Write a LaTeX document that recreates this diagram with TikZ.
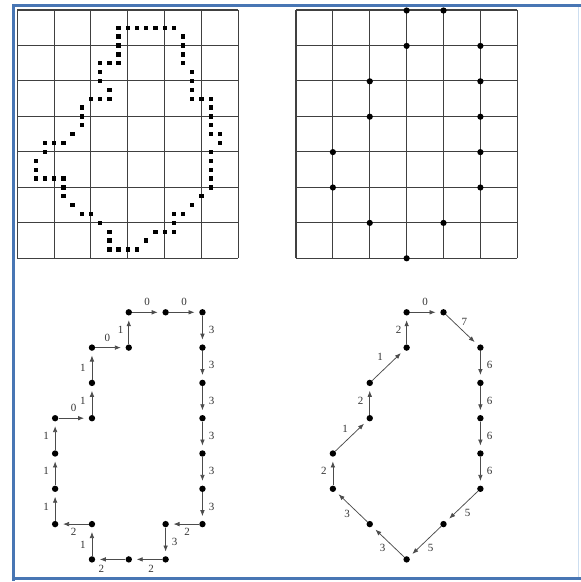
\documentclass[tikz,border=0pt]{standalone}
\usepackage{fontspec}
\setmainfont{Liberation Serif}
\usetikzlibrary{arrows.meta,positioning}
\definecolor{framecol}{RGB}{72,118,180}
\definecolor{framelight}{RGB}{205,222,240}
\tikzset{
  gridline/.style={draw=black!75, line width=1.05pt},
  sqdot/.style={rectangle, fill=black, inner sep=0pt, minimum size=4.3pt},
  gdot/.style={circle, fill=black, inner sep=0pt, minimum size=6.2pt},
  bdot/.style={circle, fill=black, inner sep=0pt, minimum size=6.4pt},
  arr/.style={draw=black!70, line width=0.75pt, -{Latex[length=6pt,width=4.6pt]}, shorten >=4.5pt},
  lab/.style={font=\fontsize{11}{13}\selectfont, text=black!80, inner sep=1pt}
}
\begin{document}
\begin{tikzpicture}[x=1pt,y=-1pt]
\useasboundingbox (0,0) rectangle (581,582);
% frame
\draw[framelight, line width=1.5pt] (578.5,5) -- (578.5,578);
\draw[framecol, line width=3pt] (13.5,4) -- (13.5,580.5);
\draw[framecol, line width=2.5pt] (12,5.5) -- (581,5.5);
\draw[framecol, line width=3pt] (12,578.8) -- (581,578.8);
% top-left grid
\foreach \i in {0,...,6} \draw[gridline] ({17.3+36.83*\i},10) -- ({17.3+36.83*\i},258.3);
\foreach \j in {0,...,7} \draw[gridline] (17.3,{10+35.47*\j}) -- (238.3,{10+35.47*\j});
% top-left boundary pixels
\foreach \a/\b in {11/2,12/2,13/2,14/2,15/2,16/2,17/2,
  18/3,18/4,18/5,18/6,19/7,19/8,19/9,19/10,20/10,21/10,
  21/11,21/12,21/13,21/14,22/14,22/15,
  21/16,21/17,21/18,21/19,21/20,20/21,19/22,18/23,17/23,17/24,17/25,16/25,15/25,
  14/26,13/27,12/27,11/27,10/27,10/26,10/25,9/24,8/23,7/23,6/22,5/21,5/20,
  5/19,4/19,3/19,2/19,2/18,2/17,3/16,3/15,4/15,5/15,6/14,7/13,7/12,7/11,
  8/10,9/10,10/10,10/9,9/8,9/7,9/6,10/6,11/6,11/5,11/4,11/3}
  \node[sqdot] (d\a-\b) at ({17.3+9.21*\a},{10+8.87*\b}) {};
% top-right grid
\foreach \i in {0,...,6} \draw[gridline] ({296+36.88*\i},10) -- ({296+36.88*\i},258.3);
\foreach \j in {0,...,7} \draw[gridline] (296,{10+35.47*\j}) -- (517.3,{10+35.47*\j});
\foreach \c/\r in {3/0,4/0,3/1,5/1,2/2,5/2,2/3,5/3,1/4,5/4,1/5,5/5,2/6,4/6,3/7}
  \node[gdot] (g\c\r) at ({296+36.88*\c},{10.5+35.4*\r}) {};
% bottom-left chain
\foreach \c/\r in {3/0,4/0,5/0,2/1,3/1,1/3,2/2,2/3,1/4,1/5,1/6,2/6,2/7,3/7,4/7,4/6,5/1,5/2,5/3,5/4,5/5,5/6}
  \node[bdot] (L\c\r) at ({18.3+36.83*\c},{312.3+35.3*\r}) {};
\draw[arr] (L16) -- node[lab,left=5pt] {1} (L15);
\draw[arr] (L15) -- node[lab,left=5pt] {1} (L14);
\draw[arr] (L14) -- node[lab,left=5pt] {1} (L13);
\draw[arr] (L13) -- node[lab,above=5pt] {0} (L23);
\draw[arr] (L23) -- node[lab,left=5pt] {1} (L22);
\draw[arr] (L22) -- node[lab,left=5pt,pos=0.4] {1} (L21);
\draw[arr] (L21) -- node[lab,above=5pt,pos=0.4] {0} (L31);
\draw[arr] (L31) -- node[lab,left=4pt] {1} (L30);
\draw[arr] (L30) -- node[lab,above=5pt] {0} (L40);
\draw[arr] (L40) -- node[lab,above=5pt] {0} (L50);
\draw[arr] (L50) -- node[lab,right=5pt] {3} (L51);
\draw[arr] (L51) -- node[lab,right=5pt] {3} (L52);
\draw[arr] (L52) -- node[lab,right=5pt] {3} (L53);
\draw[arr] (L53) -- node[lab,right=5pt] {3} (L54);
\draw[arr] (L54) -- node[lab,right=5pt] {3} (L55);
\draw[arr] (L55) -- node[lab,right=5pt] {3} (L56);
\draw[arr] (L56) -- node[lab,below=3pt,pos=0.4] {2} (L46);
\draw[arr] (L46) -- node[lab,right=5pt] {3} (L47);
\draw[arr] (L47) -- node[lab,below=4pt,pos=0.37] {2} (L37);
\draw[arr] (L37) -- node[lab,below=4pt,pos=0.8] {2} (L27);
\draw[arr] (L27) -- node[lab,left=5pt,pos=0.4] {1} (L26);
\draw[arr] (L26) -- node[lab,below=3pt] {2} (L16);
% bottom-right chain
\foreach \c/\r in {3/0,4/0,5/1,5/2,5/3,5/4,5/5,4/6,3/7,2/6,1/5,1/4,2/3,2/2,3/1}
  \node[bdot] (R\c\r) at ({296+36.88*\c},{312.3+35.3*\r}) {};
\draw[arr] (R30) -- node[lab,above=5pt] {0} (R40);
\draw[arr] (R40) -- node[lab,above right=2pt and 0pt,pos=0.45] {7} (R51);
\draw[arr] (R51) -- node[lab,right=5pt] {6} (R52);
\draw[arr] (R52) -- node[lab,right=5pt] {6} (R53);
\draw[arr] (R53) -- node[lab,right=5pt] {6} (R54);
\draw[arr] (R54) -- node[lab,right=5pt] {6} (R55);
\draw[arr] (R55) -- node[lab,below right=2pt] {5} (R46);
\draw[arr] (R46) -- node[lab,below right=2pt] {5} (R37);
\draw[arr] (R37) -- node[lab,below left=2pt] {3} (R26);
\draw[arr] (R26) -- node[lab,below left=2pt and 0pt] {3} (R15);
\draw[arr] (R15) -- node[lab,left=5pt] {2} (R14);
\draw[arr] (R14) -- node[lab,above left=3pt] {1} (R23);
\draw[arr] (R23) -- node[lab,left=5pt] {2} (R22);
\draw[arr] (R22) -- node[lab,above left=3pt and 4pt] {1} (R31);
\draw[arr] (R31) -- node[lab,left=4pt] {2} (R30);
\end{tikzpicture}
\end{document}
